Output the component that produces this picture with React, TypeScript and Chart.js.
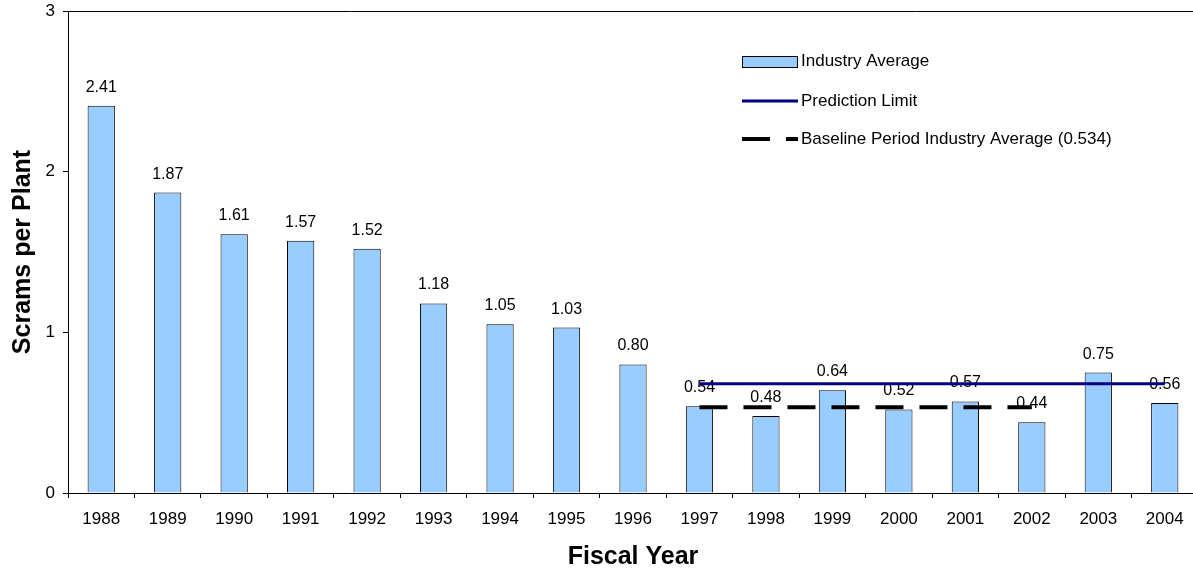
import React, { useEffect, useRef } from "react";
import { Chart, registerables } from "chart.js";

Chart.register(...registerables);

const years = ["1988", "1989", "1990", "1991", "1992", "1993", "1994", "1995", "1996", "1997", "1998", "1999", "2000", "2001", "2002", "2003", "2004"];
const industryAverage = [2.41, 1.87, 1.61, 1.57, 1.52, 1.18, 1.05, 1.03, 0.8, 0.54, 0.48, 0.64, 0.52, 0.57, 0.44, 0.75, 0.56];
const predictionLimit = [null, null, null, null, null, null, null, null, null, 0.68, 0.68, 0.68, 0.68, 0.68, 0.68, 0.68, 0.68];
const baselineAverage = [null, null, null, null, null, null, null, null, null, 0.534, 0.534, 0.534, 0.534, 0.534, 0.534, null, null];
const yTicks = [0, 1, 2, 3];

const FONT = "'Liberation Sans', Arial, sans-serif";

const labelsPlugin = {
  id: "barLabels",
  afterDatasetDraw(chart: any, args: any) {
    if (args.index !== 0) return;
    const ctx = chart.ctx;
    ctx.save();
    ctx.font = `16px ${FONT}`;
    ctx.fillStyle = "#000";
    ctx.textAlign = "center";
    ctx.textBaseline = "alphabetic";
    args.meta.data.forEach((el: any, i: number) => {
      ctx.fillText(industryAverage[i].toFixed(2), el.x, el.y - 14);
    });
    ctx.restore();
  },
};

const framePlugin = {
  id: "frameAndLegend",
  afterDraw(chart: any) {
    const ctx = chart.ctx;
    const a = chart.chartArea;
    ctx.save();
    ctx.strokeStyle = "#000";
    ctx.lineWidth = 1;
    ctx.beginPath();
    ctx.moveTo(a.left, Math.round(a.top) + 0.5);
    ctx.lineTo(a.right, Math.round(a.top) + 0.5);
    ctx.stroke();

    const x0 = 742;
    const x1 = 797;
    const tx = 801;
    ctx.font = `17px ${FONT}`;
    ctx.textAlign = "left";
    ctx.textBaseline = "middle";

    ctx.fillStyle = "#99CCFF";
    ctx.fillRect(x0 + 0.5, 56.5, x1 - x0, 11);
    ctx.strokeStyle = "#000";
    ctx.lineWidth = 1;
    ctx.strokeRect(x0 + 0.5, 56.5, x1 - x0, 11);
    ctx.fillStyle = "#000";
    ctx.fillText("Industry Average", tx, 61);

    ctx.strokeStyle = "#000080";
    ctx.lineWidth = 3;
    ctx.beginPath();
    ctx.moveTo(x0, 101);
    ctx.lineTo(x1 + 1, 101);
    ctx.stroke();
    ctx.fillText("Prediction Limit", tx, 101);

    ctx.strokeStyle = "#000";
    ctx.lineWidth = 4;
    ctx.setLineDash([28, 16]);
    ctx.lineCap = "butt";
    ctx.beginPath();
    ctx.moveTo(x0, 139);
    ctx.lineTo(x1 + 1, 139);
    ctx.stroke();
    ctx.setLineDash([]);
    ctx.fillText("Baseline Period Industry Average (0.534)", tx, 139);
    ctx.restore();
  },
};

export default function App() {
  const ref = useRef<HTMLCanvasElement | null>(null);

  useEffect(() => {
    if (!ref.current) return;
    const chart = new Chart(ref.current, {
      type: "bar",
      data: {
        labels: years,
        datasets: [
          {
            type: "bar",
            label: "Industry Average",
            data: industryAverage,
            backgroundColor: "#99CCFF",
            borderColor: "#000",
            borderWidth: 1,
            barPercentage: 0.41,
            categoryPercentage: 1,
            order: 3,
          } as any,
          {
            type: "line",
            label: "Prediction Limit",
            data: predictionLimit,
            borderColor: "#000080",
            borderWidth: 3,
            pointRadius: 0,
            fill: false,
            order: 2,
          } as any,
          {
            type: "line",
            label: "Baseline Period Industry Average (0.534)",
            data: baselineAverage,
            borderColor: "#000",
            borderWidth: 4,
            borderDash: [28, 16],
            borderCapStyle: "butt",
            pointRadius: 0,
            fill: false,
            order: 1,
          } as any,
        ],
      },
      options: {
        responsive: false,
        animation: false,
        layout: { padding: { top: 11, right: 0, left: 0, bottom: 0 } },
        plugins: {
          legend: { display: false },
          tooltip: { enabled: false },
        },
        scales: {
          x: {
            offset: true,
            grid: {
              display: true,
              drawOnChartArea: false,
              tickLength: 5,
              color: "#000",
              offset: true,
            },
            border: { color: "#000", width: 1 },
            ticks: { color: "#000", font: { family: FONT, size: 17 }, padding: 11, maxRotation: 0, autoSkip: false },
            title: {
              display: true,
              text: "Fiscal Year",
              color: "#000",
              font: { family: FONT, size: 25, weight: "bold" },
              padding: { top: 0, bottom: 1 },
            },
            afterFit: (s: any) => {
              s.height = 80;
              s.paddingLeft = 0;
              s.paddingRight = 0;
            },
          },
          y: {
            min: 0,
            max: 3,
            afterBuildTicks: (s: any) => {
              s.ticks = yTicks.map((v) => ({ value: v }));
            },
            grid: { display: true, drawOnChartArea: false, tickLength: 5, color: "#000" },
            border: { color: "#000", width: 1 },
            ticks: { color: "#000", font: { family: FONT, size: 17 }, padding: 8 },
            title: {
              display: true,
              text: "Scrams per Plant",
              color: "#000",
              font: { family: FONT, size: 25, weight: "bold" },
              padding: { top: 8, bottom: 0 },
            },
            afterFit: (s: any) => {
              s.width = 68;
              s.paddingTop = 0;
              s.paddingBottom = 0;
            },
          },
        },
      } as any,
      plugins: [labelsPlugin, framePlugin],
    });
    return () => chart.destroy();
  }, []);

  return (
    <div style={{ position: "fixed", left: 0, top: 0, width: 1193, height: 573, overflow: "hidden", background: "#fff" }}>
      <canvas ref={ref} width={1198} height={573} style={{ display: "block" }} />
    </div>
  );
}
